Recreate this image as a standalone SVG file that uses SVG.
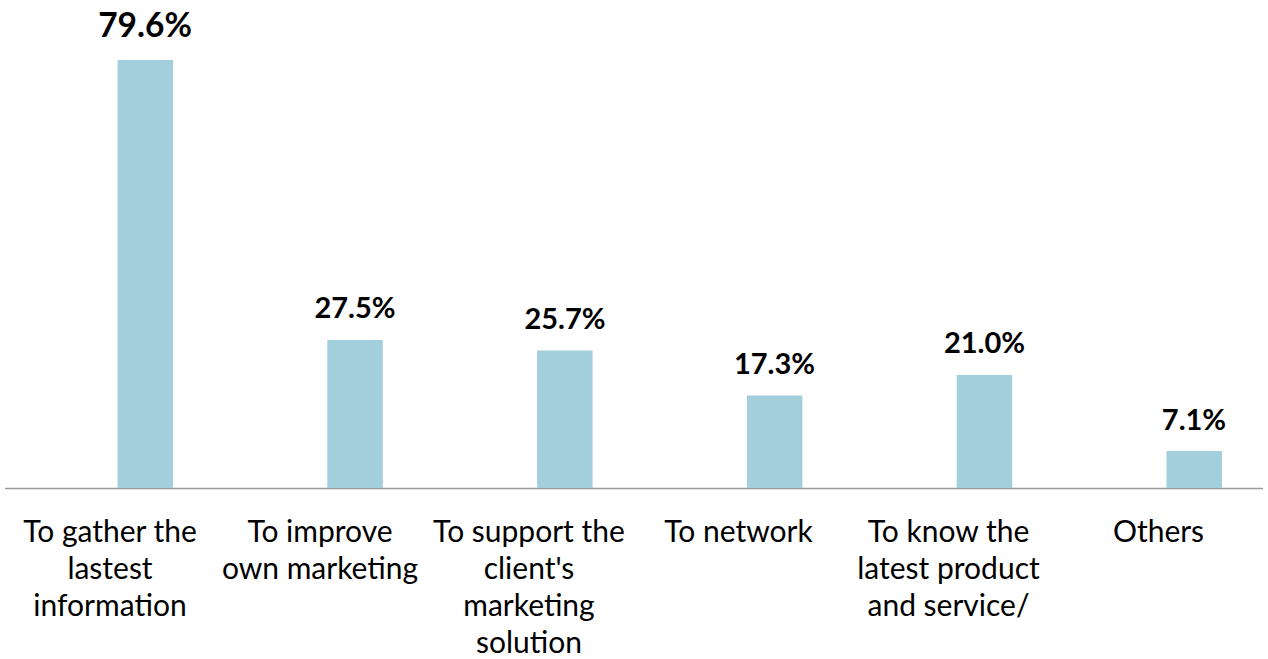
<svg xmlns="http://www.w3.org/2000/svg" width="1268" height="659" viewBox="0 0 1268 659">
<style>
.bar{fill:#a3cfdd}
.val{font-family:Lato,"Liberation Sans",sans-serif;font-weight:bold;font-size:29px;fill:#000;text-anchor:middle}
.cat{font-family:Lato,"Liberation Sans",sans-serif;font-size:30px;fill:#000;text-anchor:middle}
.axis{stroke:#9b9b9b;stroke-width:1.6;fill:none}
</style>
<rect width="1268" height="659" fill="#fff"/>
<g id="axis">
<line class="axis" x1="5" y1="488.5" x2="1263" y2="488.5"/>
</g>
<g id="bar1">
<rect class="bar" x="117.5" y="60" width="55.5" height="428"/>
<text class="val" x="145" y="37" style="font-size:33.5px">79.6%</text>
<text class="cat" x="110" y="541.5">To gather the</text>
<text class="cat" x="110" y="579">lastest</text>
<text class="cat" x="110" y="616">information</text>
</g>
<g id="bar2">
<rect class="bar" x="327.3" y="340" width="55.5" height="148"/>
<text class="val" x="355" y="318">27.5%</text>
<text class="cat" x="320" y="541.5">To improve</text>
<text class="cat" x="320" y="579">own marketing</text>
</g>
<g id="bar3">
<rect class="bar" x="537.1" y="350.5" width="55.5" height="137.5"/>
<text class="val" x="565" y="329">25.7%</text>
<text class="cat" x="529" y="541.5">To support the</text>
<text class="cat" x="529" y="579">client's</text>
<text class="cat" x="529" y="616">marketing</text>
<text class="cat" x="529" y="653">solution</text>
</g>
<g id="bar4">
<rect class="bar" x="746.9" y="395.5" width="55.5" height="92.5"/>
<text class="val" x="774.5" y="374">17.3%</text>
<text class="cat" x="738.5" y="541.5">To network</text>
</g>
<g id="bar5">
<rect class="bar" x="956.7" y="375" width="55.5" height="113"/>
<text class="val" x="984.5" y="353">21.0%</text>
<text class="cat" x="948.5" y="541.5">To know the</text>
<text class="cat" x="948.5" y="579">latest product</text>
<text class="cat" x="948.5" y="616">and service/</text>
</g>
<g id="bar6">
<rect class="bar" x="1166.5" y="451" width="55.5" height="37"/>
<text class="val" x="1194" y="429.5">7.1%</text>
<text class="cat" x="1158.5" y="541.5">Others</text>
</g>
</svg>
